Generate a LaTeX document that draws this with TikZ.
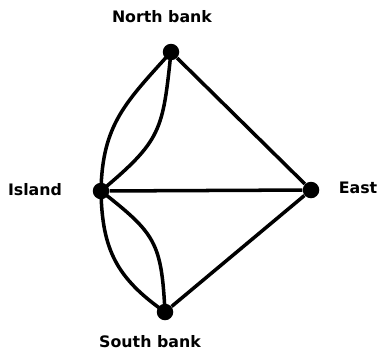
\documentclass[tikz,border=0pt]{standalone}
\usepackage{fontspec}
\newfontfamily\graphfont{DejaVu Sans}
\usetikzlibrary{positioning}

\begin{document}
\begin{tikzpicture}[x=0.02cm, y=0.02cm,
    landmass/.style={circle, fill=black, inner sep=0pt, minimum size=0.33cm},
    lbl/.style={font=\graphfont\bfseries\fontsize{9}{10}\selectfont, inner sep=0pt},
    bridge/.style={line width=2pt, draw=black}
]
    \useasboundingbox (0,0) rectangle (381,353);

    % Land masses
    \node[landmass] (north) at (171, 301) {};
    \node[landmass] (island) at (101, 162) {};
    \node[landmass] (east) at (311, 163) {};
    \node[landmass] (south) at (165, 41) {};

    % Labels
    \node[lbl] (north_lbl) at (162, 336) {North bank};
    \node[lbl] (island_lbl) at (35, 163) {Island};
    \node[lbl] (east_lbl) at (358, 165) {East};
    \node[lbl] (south_lbl) at (150, 11) {South bank};

    % Bridges island - north bank
    \draw[bridge] (island.center) to[out=89, in=228, looseness=1.1] (north.center);
    \draw[bridge] (island.center) to[out=40, in=264, looseness=1.3] (north.center);

    % Bridges island - south bank
    \draw[bridge] (island.center) to[out=-89, in=145, looseness=1.1] (south.center);
    \draw[bridge] (island.center) to[out=-38, in=93, looseness=1.3] (south.center);

    % Bridges to the east
    \draw[bridge] (island) -- (east);
    \draw[bridge] (north) -- (east);
    \draw[bridge] (south) -- (east);

\end{tikzpicture}
\end{document}
